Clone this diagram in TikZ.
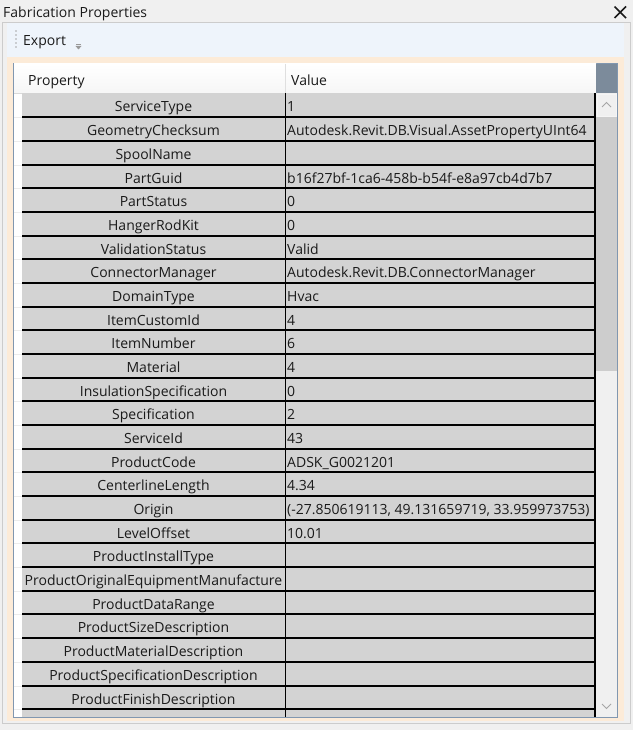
\documentclass[tikz,border=0pt]{standalone}
\usepackage{fontspec}
\setmainfont{Open Sans}
\definecolor{winbg}{HTML}{F0F0F0}
\definecolor{tbblue}{HTML}{EEF4FB}
\definecolor{beige}{HTML}{FCEBD8}
\definecolor{gridbd}{HTML}{8197B0}
\definecolor{rowgray}{HTML}{D3D3D3}
\definecolor{txt}{HTML}{1A1A1A}
\definecolor{slate}{HTML}{7C8B9B}
\definecolor{thumb}{HTML}{CDCDCD}
\definecolor{chev}{HTML}{A6A6A6}
\begin{document}
\begin{tikzpicture}[x=1pt,y=-1pt,
  lbl/.style={inner sep=0pt,text=txt,font=\fontsize{14}{16}\selectfont,anchor=base},
  prop/.style={lbl},
  val/.style={lbl,anchor=base west},
  sep/.style={line width=1.5pt,black},
  chevron/.style={chev,line width=1pt}]
\useasboundingbox (0,0) rectangle (633,730);
\fill[winbg] (0,0) rectangle (633,730);
% window frame
\draw[color=gray!40] (2.5,22.5) rectangle (630.5,723.5);
% title
\node[lbl,anchor=base west] (title) at (3,17.5) {Fabrication Properties};
\draw[line width=1.7pt,txt] (614.5,6.5) -- (626,18) (626,6.5) -- (614.5,18);
% toolbar
\fill[tbblue] (7,23) rectangle (624,57);
\foreach \yy in {31,35,39,43,47} \fill[gray!70] (16,\yy) circle (0.8);
\node[lbl,anchor=base west] (export) at (23,45.5) {Export};
\draw[gray!80,line width=0.8pt] (76,44.5) -- (81,44.5);
\fill[gray!80] (75.5,46) -- (81.5,46) -- (78.5,49.5) -- cycle;
% content
\fill[beige] (7,57) rectangle (624,721);
\draw[gridbd,fill=white] (13.5,63.5) rectangle (617.5,717.5);
% header
\shade[top color=white,bottom color=white!93!gray] (14,64) rectangle (596,93.5);
\draw[gray!30] (14,93.5) -- (596,93.5);
\draw[gray!25] (285.5,64) -- (285.5,93.5);
\fill[slate] (596,64) rectangle (617,93.5);
\node[lbl,anchor=base west] (hprop) at (28,86) {Property};
\node[lbl,anchor=base west] (hval) at (291,86) {Value};
% rows
\fill[rowgray] (22,93.5) rectangle (595,717);
\foreach \k in {0,...,25} {
  \pgfmathsetmacro{\yy}{round(117.2+23.68*\k)}
  \draw[sep] (22,\yy) -- (595,\yy);
  \draw[gray!15] (14,\yy) -- (22,\yy);
}
\draw[sep] (285.5,93.5) -- (285.5,717);
\draw[sep] (595,93.5) -- (595,717);
% scrollbar
\fill[winbg] (596,93.5) rectangle (617,717);
\fill[thumb] (596,117.5) rectangle (617,371);
\draw[white!92!gray] (597,94.5) rectangle (616,116.5);
\draw[white!88!gray] (597,697.5) rectangle (616,716.5);
\draw[chevron] (602,107) -- (606.5,102.5) -- (611,107);
\draw[chevron] (602,704) -- (606.5,708.5) -- (611,704);
% texts
\foreach \i/\p/\v in {
 0/ServiceType/1,
 1/GeometryChecksum/Autodesk.Revit.DB.Visual.AssetPropertyUInt64,
 2/SpoolName/,
 3/PartGuid/b16f27bf-1ca6-458b-b54f-e8a97cb4d7b7,
 4/PartStatus/0,
 5/HangerRodKit/0,
 6/ValidationStatus/Valid,
 7/ConnectorManager/Autodesk.Revit.DB.ConnectorManager,
 8/DomainType/Hvac,
 9/ItemCustomId/4,
 10/ItemNumber/6,
 11/Material/4,
 12/InsulationSpecification/0,
 13/Specification/2,
 14/ServiceId/43,
 15/ProductCode/ADSK\_G0021201,
 16/CenterlineLength/4.34,
 17/Origin/{(-27.850619113, 49.131659719, 33.959973753)},
 18/LevelOffset/10.01,
 19/ProductInstallType/,
 20/ProductOriginalEquipmentManufacture/,
 21/ProductDataRange/,
 22/ProductSizeDescription/,
 23/ProductMaterialDescription/,
 24/ProductSpecificationDescription/,
 25/ProductFinishDescription/} {
  \node[prop] (p\i) at (153.5,112+23.68*\i) {\p};
  \node[val] (v\i) at (287,112+23.68*\i) {\v};
}
\end{tikzpicture}
\end{document}
